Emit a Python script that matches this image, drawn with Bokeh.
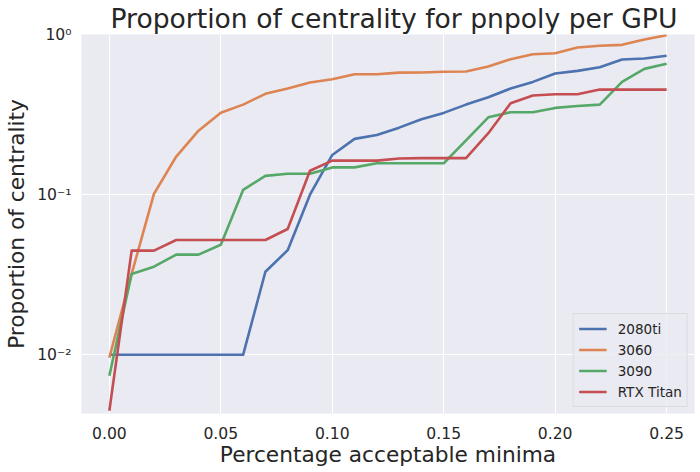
from bokeh.plotting import figure
from bokeh.models import (Range1d, FixedTicker, NumeralTickFormatter, CustomJSTickFormatter,
                          Legend, LegendItem)
from bokeh.embed import file_html
from bokeh.resources import INLINE

# ---------------- data ----------------
minima = [0.00, 0.01, 0.02, 0.03, 0.04, 0.05, 0.06, 0.07, 0.08, 0.09, 0.10, 0.11, 0.12,
          0.13, 0.14, 0.15, 0.16, 0.17, 0.18, 0.19, 0.20, 0.21, 0.22, 0.23, 0.24, 0.25]

gpu_2080ti = [0.010, 0.010, 0.010, 0.010, 0.010, 0.010, 0.010, 0.033, 0.045, 0.100, 0.177,
              0.223, 0.236, 0.262, 0.296, 0.324, 0.365, 0.406, 0.460, 0.506, 0.571, 0.593,
              0.625, 0.698, 0.708, 0.736]
gpu_3060 = [0.0096, 0.032, 0.101, 0.173, 0.251, 0.325, 0.365, 0.426, 0.460, 0.501, 0.526,
            0.565, 0.565, 0.578, 0.579, 0.585, 0.587, 0.631, 0.701, 0.753, 0.764, 0.829,
            0.850, 0.862, 0.931, 0.990]
gpu_3090 = [0.0074, 0.032, 0.0355, 0.0422, 0.0422, 0.0487, 0.107, 0.131, 0.135, 0.135, 0.148,
            0.148, 0.157, 0.157, 0.157, 0.157, 0.218, 0.304, 0.327, 0.327, 0.348, 0.358,
            0.365, 0.506, 0.610, 0.656]
gpu_rtx_titan = [0.00447, 0.0447, 0.0447, 0.0521, 0.0521, 0.0521, 0.0521, 0.0521, 0.061, 0.141,
                 0.163, 0.163, 0.163, 0.168, 0.169, 0.169, 0.169, 0.242, 0.372, 0.416, 0.424,
                 0.424, 0.453, 0.453, 0.453, 0.453]

series_names = ["2080ti", "3060", "3090", "RTX Titan"]
series_colors = ["#4C72B0", "#DD8452", "#55A868", "#C44E52"]

x_ticks = [0.00, 0.05, 0.10, 0.15, 0.20, 0.25]
y_ticks = [0.01, 0.1, 1.0]

title_text = "Proportion of centrality for pnpoly per GPU"
x_label = "Percentage acceptable minima"
y_label = "Proportion of centrality"

FONT = "DejaVu Sans"
TXT = "#262626"
BG = "#EAEAF2"

FW, FH = 613, 379

p = figure(frame_width=FW, frame_height=FH, y_axis_type="log",
           x_range=Range1d(-0.0125, 0.2625), y_range=Range1d(0.0043, 1.0),
           output_backend="svg", toolbar_location=None,
           min_border_left=81, min_border_top=34, min_border_right=5, min_border_bottom=57,
           background_fill_color=BG, border_fill_color="white", outline_line_color=None)

renderers = []
for vals, c in zip([gpu_2080ti, gpu_3060, gpu_3090, gpu_rtx_titan], series_colors):
    r = p.line(minima, vals, line_color=c, line_width=2.6, line_join="round")
    renderers.append(r)

# grid
for g in (p.xgrid[0], p.ygrid[0]):
    g.grid_line_color = "white"
    g.grid_line_width = 1
p.ygrid[0].minor_grid_line_color = None

# axes
p.xaxis.ticker = FixedTicker(ticks=x_ticks)
p.xaxis.formatter = NumeralTickFormatter(format="0.00")
p.yaxis.ticker = FixedTicker(ticks=y_ticks, minor_ticks=[])
p.yaxis.formatter = CustomJSTickFormatter(code="""
const e = Math.round(Math.log10(tick));
const sup = {'0':'\u2070','1':'\u00b9','2':'\u00b2','3':'\u00b3','-':'\u207b'};
return '10' + String(e).split('').map(c => sup[c]).join('');
""")
for ax in (p.xaxis[0], p.yaxis[0]):
    ax.axis_line_color = None
    ax.major_tick_line_color = None
    ax.minor_tick_line_color = None
    ax.major_tick_in = 0
    ax.major_tick_out = 0
    ax.minor_tick_in = 0
    ax.minor_tick_out = 0
    ax.major_label_text_font = FONT
    ax.major_label_text_font_size = "15.6px"
    ax.major_label_text_color = TXT
    ax.axis_label_text_font = FONT
    ax.axis_label_text_font_size = "21.7px"
    ax.axis_label_text_font_style = "normal"
    ax.axis_label_text_color = TXT

p.xaxis.axis_label = x_label
p.yaxis.axis_label = y_label
p.xaxis.major_label_standoff = 13
p.xaxis.axis_label_standoff = 0
p.yaxis.major_label_standoff = 10
p.yaxis.axis_label_standoff = 5

# title
p.title.text = title_text
p.title.text_font = FONT
p.title.text_font_size = "26.6px"
p.title.text_font_style = "normal"
p.title.text_color = TXT
p.title.align = "left"
p.title.offset = 29
p.title.standoff = 1

legend = Legend(items=[LegendItem(label=n, renderers=[r]) for n, r in zip(series_names, renderers)],
                location="bottom_right", margin=6, padding=5, spacing=2,
                glyph_width=28, glyph_height=19, label_height=19, label_standoff=11,
                label_text_font=FONT, label_text_font_size="13.6px", label_text_color=TXT,
                background_fill_color=BG, background_fill_alpha=0.8,
                border_line_color="#CCCCCC", border_line_width=1)
p.add_layout(legend)

open("out.html", "w").write(file_html(p, INLINE))
